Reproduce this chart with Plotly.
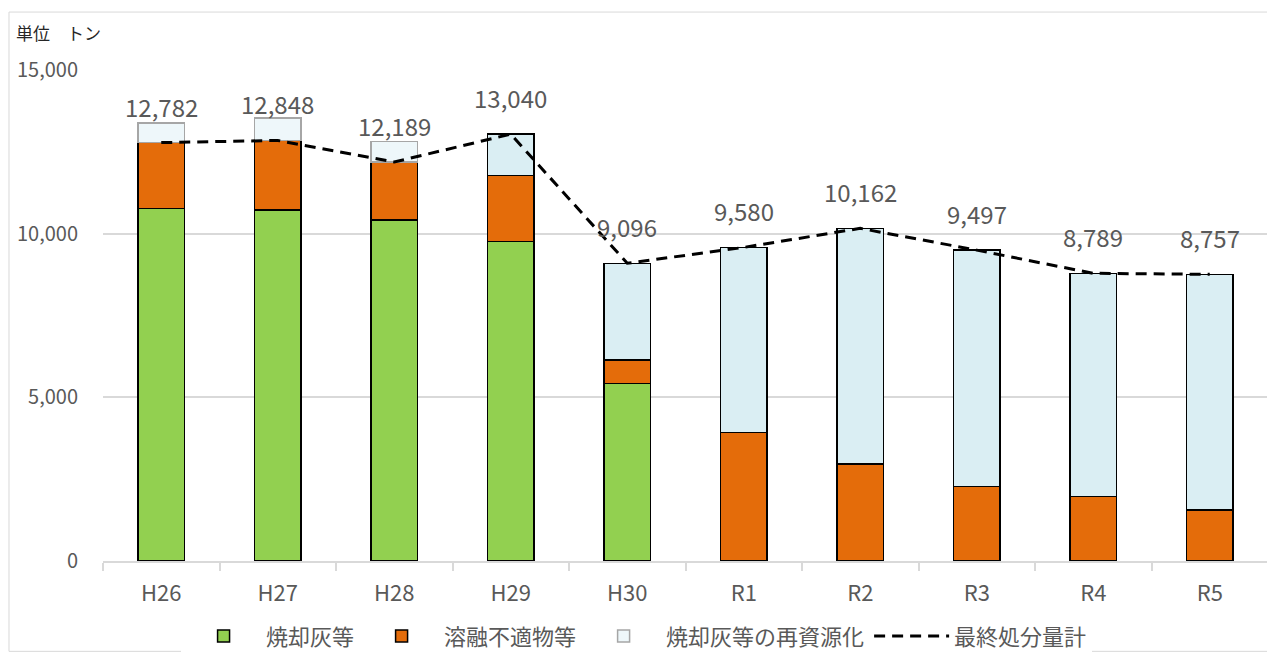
import plotly.graph_objects as go

categories = ["H26", "H27", "H28", "H29", "H30", "R1", "R2", "R3", "R4", "R5"]
ash = [10776, 10724, 10418, 9768, 5428, 0, 0, 0, 0, 0]
unsuitable = [2006, 2124, 1771, 2016, 713, 3920, 2964, 2271, 1966, 1558]
recycled = [600, 680, 620, 1256, 2955, 5660, 7198, 7226, 6823, 7199]
recycled_faded = [True, True, True, False, False, False, False, False, False, False]
final_total = [12782, 12848, 12189, 13040, 9096, 9580, 10162, 9497, 8789, 8757]

FONT = "Noto Sans CJK JP"
GREY_TXT = "#595959"

fig = go.Figure()
fig.add_trace(go.Bar(
    name="焼却灰等", x=categories, y=ash,
    marker=dict(color="#92d050", line=dict(color="#000000", width=1.5)),
))
fig.add_trace(go.Bar(
    name="溶融不適物等", x=categories, y=unsuitable,
    marker=dict(color="#e46c0a", line=dict(color="#000000", width=1.5)),
))
fig.add_trace(go.Bar(
    name="焼却灰等の再資源化", x=categories, y=recycled,
    marker=dict(
        color=["#eef7fa" if f else "#daeef3" for f in recycled_faded],
        line=dict(color=["#a6a6a6" if f else "#000000" for f in recycled_faded], width=1.5),
    ),
))
fig.add_trace(go.Scatter(
    name="最終処分量計", x=categories, y=final_total, mode="lines",
    line=dict(color="#000000", width=3, dash="11px,7px"),
))

for c, v in zip(categories, final_total):
    fig.add_annotation(
        x=c, y=v, text=f"{v:,}", showarrow=False, yanchor="bottom",
        yshift=17, font=dict(family=FONT, size=24, color=GREY_TXT),
    )

fig.add_annotation(
    xref="paper", yref="paper", x=-0.076, y=1.077, xanchor="left", yanchor="middle",
    text="単位　トン", showarrow=False, font=dict(family=FONT, size=17, color="#262626"),
)

fig.add_shape(
    type="rect", xref="paper", yref="paper",
    x0=-0.0807, x1=1.004, y0=-0.184, y1=1.118,
    line=dict(color="#d9d9d9", width=1), fillcolor="rgba(0,0,0,0)", layer="below",
)

# the page adds an 8px body margin, so the figure is sized to the visible area
fig.update_layout(
    width=1267, height=645,
    margin=dict(l=95, r=7, t=62, b=92, autoexpand=False),
    barmode="stack", bargap=0.6,
    plot_bgcolor="white", paper_bgcolor="white",
    font=dict(family=FONT, color=GREY_TXT),
    showlegend=True,
    legend=dict(
        orientation="h", x=0.458, xanchor="center", y=-0.153, yanchor="middle",
        font=dict(family=FONT, size=22, color=GREY_TXT),
        itemwidth=75, traceorder="normal",
    ),
    xaxis=dict(
        showgrid=False, showline=True, linecolor="#d9d9d9", linewidth=1.5,
        ticks="outside", tickson="boundaries", ticklen=8, tickcolor="#d9d9d9", tickwidth=1.5,
        tickfont=dict(family=FONT, size=22, color=GREY_TXT),
        ticklabelstandoff=12,
    ),
    yaxis=dict(
        range=[0, 15000], tickvals=[0, 5000, 10000, 15000], tickformat=",",
        showgrid=True, gridcolor="#d9d9d9", gridwidth=1.5,
        showline=False, zeroline=False, ticks="",
        tickfont=dict(family=FONT, size=20, color=GREY_TXT),
        ticklabelstandoff=24,
    ),
)

fig.write_html("out.html")
